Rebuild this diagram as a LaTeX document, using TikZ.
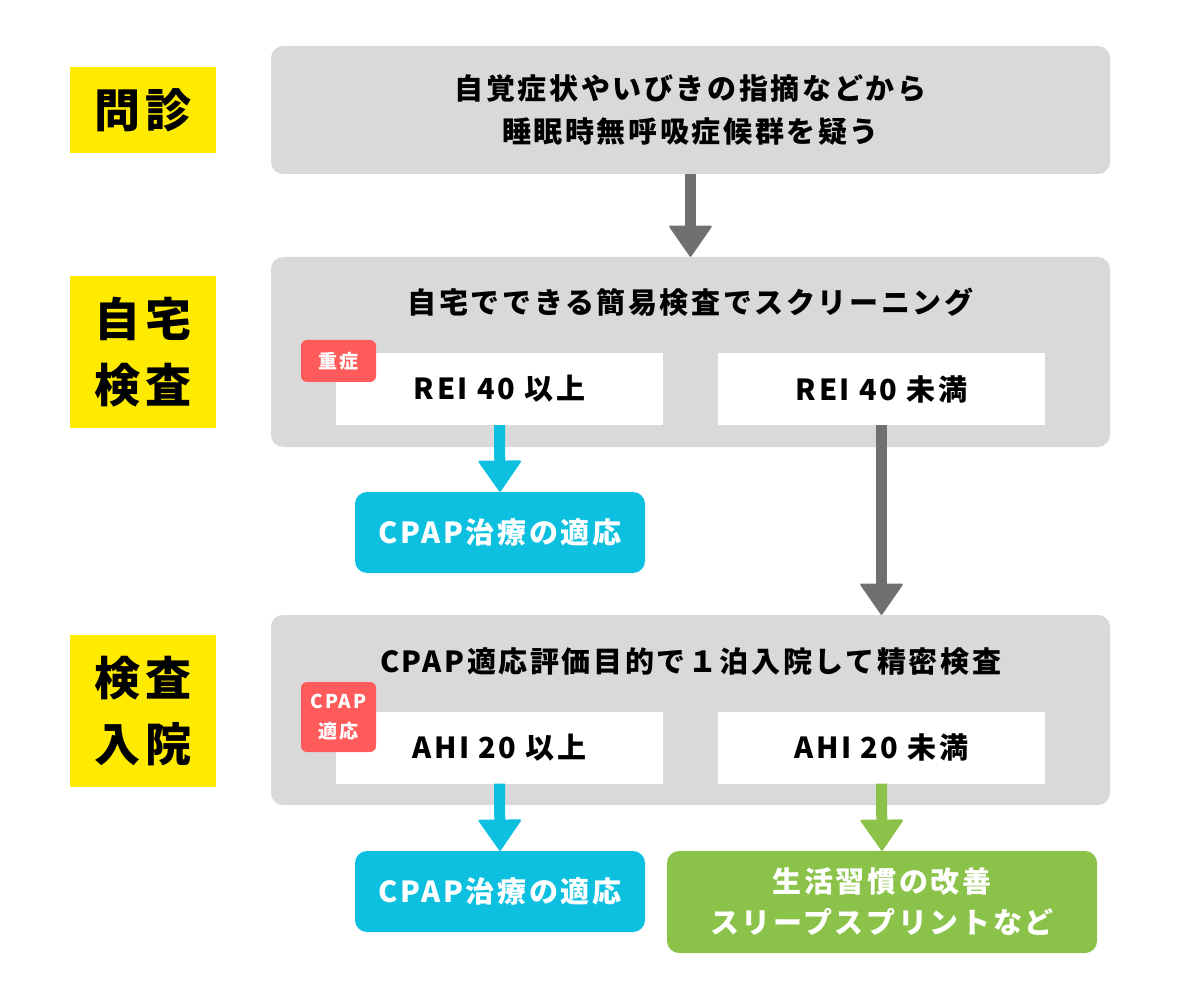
\documentclass[tikz,border=0pt]{standalone}
\usepackage{fontspec}
\setmainfont{Noto Sans CJK JP}[LetterSpace=9]
\usetikzlibrary{arrows.meta,positioning}
\definecolor{stagey}{HTML}{FFEB00}
\definecolor{panelg}{HTML}{D9D9D9}
\definecolor{arrowg}{HTML}{707070}
\definecolor{cpapc}{HTML}{0DC0E0}
\definecolor{badger}{HTML}{FF5B5B}
\definecolor{lifeg}{HTML}{8BC34A}
\tikzset{
stage/.style={fill=stagey,minimum width=146pt,align=center,font=\bfseries\fontsize{46}{66}\selectfont},
panel/.style={fill=panelg,rounded corners=12pt,minimum width=839pt,align=center,font=\bfseries\fontsize{29}{43}\selectfont},
result/.style={fill=white,minimum width=327pt,minimum height=72pt,font=\bfseries\fontsize{29}{35}\selectfont},
badge/.style={fill=badger,rounded corners=6pt,minimum width=75pt,align=center,text=white,font=\bfseries\fontsize{19}{30}\selectfont},
goal/.style={rounded corners=12pt,align=center,text=white,font=\bfseries\fontsize{29}{41}\selectfont},
flow/.style={line width=11pt,-{Triangle[width=44pt,length=32pt,line width=2pt,round]}}
}
\begin{document}
\begin{tikzpicture}[x=1pt,y=-1pt]
\useasboundingbox (0,0) rectangle (1200,1000);
% stages
\node[stage,minimum height=86pt] (s1) at (143,110) {問診};
\node[stage,minimum height=152pt] (s2) at (143,352) {自宅\\検査};
\node[stage,minimum height=152pt] (s3) at (143,711) {検査\\入院};
% panels
\node[panel,minimum height=128pt] (ask) at (690.5,110) {自覚症状やいびきの指摘などから\\睡眠時無呼吸症候群を疑う};
\node[panel,minimum height=190pt] (home) at (690.5,352) {};
\node[panel,minimum height=190pt] (hosp) at (690.5,710) {};
\node[font=\bfseries\fontsize{29}{35}\selectfont] (hometitle) at (690.5,302) {自宅でできる簡易検査でスクリーニング};
\node[font=\bfseries\fontsize{29}{35}\selectfont] (hosptitle) at (690.5,662) {CPAP適応評価目的で１泊入院して精密検査};
% results
\node[result] (reihi) at (499.5,389) {REI 40 以上};
\node[result] (reilo) at (881.5,389) {REI 40 未満};
\node[result] (ahihi) at (499.5,747.5) {AHI 20 以上};
\node[result] (ahilo) at (881.5,747.5) {AHI 20 未満};
\node[badge,minimum height=42pt] (b1) at (338.5,361) {重症};
\node[badge,minimum height=70pt] (b2) at (338.5,717) {CPAP\\適応};
% goals
\node[goal,fill=cpapc,minimum width=290pt,minimum height=81pt] (cpap1) at (500,532.5) {CPAP治療の適応};
\node[goal,fill=cpapc,minimum width=290pt,minimum height=81pt] (cpap2) at (500,891.5) {CPAP治療の適応};
\node[goal,fill=lifeg,minimum width=430pt,minimum height=102pt] (life) at (882,902) {生活習慣の改善\\スリープスプリントなど};
% arrows
\draw[flow,arrowg] (ask.south) -- (home.north);
\draw[flow,arrowg] (reilo.south) -- (reilo.south |- hosp.north);
\draw[flow,cpapc] (reihi.south) -- (cpap1.north);
\draw[flow,cpapc] (ahihi.south) -- (cpap2.north);
\draw[flow,lifeg] (ahilo.south) -- (life.north);
\end{tikzpicture}
\end{document}
